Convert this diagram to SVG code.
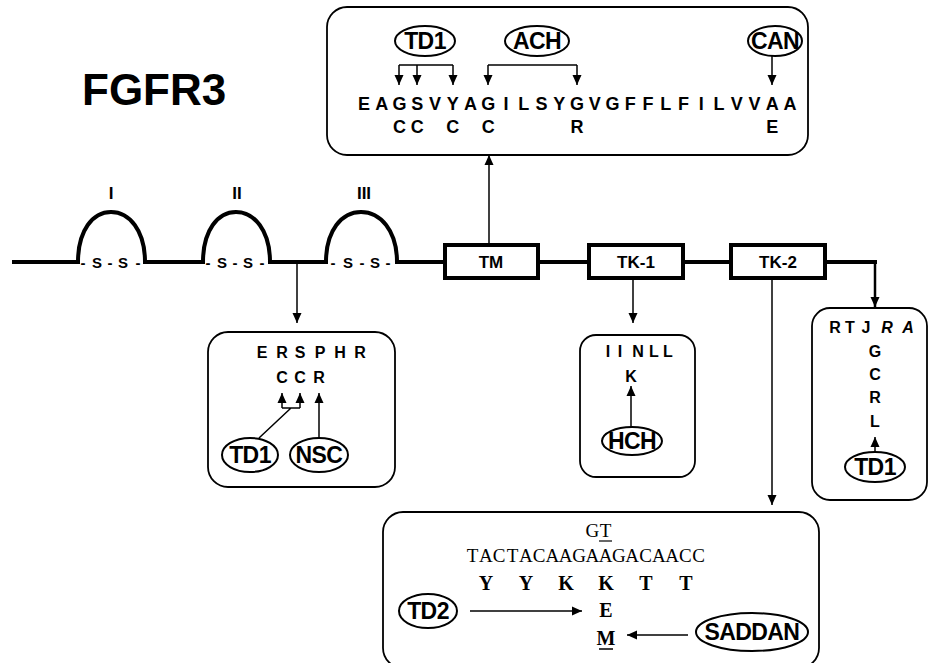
<svg xmlns="http://www.w3.org/2000/svg" width="929" height="663" viewBox="0 0 929 663">
<style>
.bg{fill:#fff}
.box{fill:none;stroke:#000;stroke-width:1.8}
.main{fill:none;stroke:#000;stroke-width:4}
.ell{fill:#fff;stroke:#000;stroke-width:2}
.c{fill:none;stroke:#000;stroke-width:1.5}
.el{font-family:"Liberation Sans",Arial,sans-serif;font-weight:bold;font-size:23px;text-anchor:middle;letter-spacing:-0.6px}
.aa{font-family:"Liberation Sans",Arial,sans-serif;font-weight:bold;font-size:18px;text-anchor:middle}
.sm{font-family:"Liberation Sans",Arial,sans-serif;font-weight:bold;font-size:16px;text-anchor:middle}
.lb{font-family:"Liberation Sans",Arial,sans-serif;font-weight:bold;font-size:17px;text-anchor:middle}
.ss{font-family:"Liberation Sans",Arial,sans-serif;font-weight:bold;font-size:15px;text-anchor:middle}
.dn{font-family:"Liberation Serif","Times New Roman",serif;font-size:19px;text-anchor:middle}
.pb{font-family:"Liberation Serif","Times New Roman",serif;font-weight:bold;font-size:20px;text-anchor:middle}
</style>
<defs>
<marker id="ah" markerUnits="userSpaceOnUse" markerWidth="10" markerHeight="10" refX="10" refY="5" orient="auto">
<path d="M0,0.5 L10,5 L0,9.5 z" fill="#000"/>
</marker>
</defs>
<rect class="bg" x="0" y="0" width="929" height="663"/>

<text x="82" y="105" font-family="Liberation Sans,Arial,sans-serif" font-weight="bold" font-size="44">FGFR3</text>

<g id="backbone">
<path class="main" d="M12,262 H78 C78,230 93,212 111,212 C129,212 145,230 145,262 H203 C203,230 218,212 236,212 C254,212 270,230 270,262 H326 C326,230 342,212 361,212 C380,212 397,230 397,262 H445 M538,262 H589 M683,262 H731 M825,262 H877"/>
<text class="lb" x="111" y="199">I</text>
<text class="lb" x="237" y="199">II</text>
<text class="lb" x="364" y="199">III</text>
<text class="ss" x="83 97 110 123 138" y="268">-S-S-</text>
<text class="ss" x="208 222 235 248 262" y="268">-S-S-</text>
<text class="ss" x="333 348 362 375 388" y="268">-S-S-</text>
</g>

<g id="TM">
<rect x="445" y="245" width="93" height="33" fill="#fff" stroke="#000" stroke-width="4"/>
<text class="lb" x="491" y="268">TM</text>
</g>
<g id="TK1">
<rect x="589" y="245" width="94" height="33" fill="#fff" stroke="#000" stroke-width="4"/>
<text class="lb" x="636" y="268">TK-1</text>
</g>
<g id="TK2">
<rect x="731" y="245" width="94" height="33" fill="#fff" stroke="#000" stroke-width="4"/>
<text class="lb" x="778" y="268">TK-2</text>
</g>

<g id="connectors">
<line class="c" x1="489" y1="245" x2="489" y2="155" marker-end="url(#ah)"/>
<line class="c" x1="297" y1="262" x2="297" y2="323" marker-end="url(#ah)"/>
<line class="c" x1="633" y1="278" x2="633" y2="323" marker-end="url(#ah)"/>
<line class="c" x1="772" y1="278" x2="772" y2="505" marker-end="url(#ah)"/>
<line x1="875" y1="260" x2="875" y2="307" stroke="#000" stroke-width="2.5" marker-end="url(#ah)"/>
</g>

<g id="tm-box">
<rect class="box" x="327" y="7" width="481" height="148" rx="20"/>
<ellipse class="ell" cx="425" cy="41" rx="30" ry="15"/>
<text class="el" x="425" y="49">TD1</text>
<ellipse class="ell" cx="537" cy="41" rx="32" ry="15"/>
<text class="el" x="537" y="49">ACH</text>
<ellipse class="ell" cx="775" cy="41" rx="27" ry="15"/>
<text class="el" x="775" y="49">CAN</text>
<path class="c" d="M399,65 H453 M417,65 V85" marker-end="url(#ah)"/>
<line class="c" x1="399" y1="65" x2="399" y2="85" marker-end="url(#ah)"/>
<line class="c" x1="453" y1="65" x2="453" y2="85" marker-end="url(#ah)"/>
<path class="c" d="M488,65 H577"/>
<line class="c" x1="488" y1="65" x2="488" y2="85" marker-end="url(#ah)"/>
<line class="c" x1="577" y1="65" x2="577" y2="85" marker-end="url(#ah)"/>
<line class="c" x1="772" y1="56" x2="772" y2="85" marker-end="url(#ah)"/>
<text class="aa" x="364 381.75 399.5 417.25 435 452.75 470.5 488.25 506 523.75 541.5 559.25 577 594.75 612.5 630.25 648 665.75 683.5 701.25 719 736.75 754.5 772.25 790" y="110">EAGSVYAGILSYGVGFFLFILVVAA</text>
<text class="aa" x="399.5 417.25 452.75 488.25 577 772.25" y="133">CCCCRE</text>
</g>

<g id="ig-box">
<rect class="box" x="208" y="332" width="187" height="155" rx="20"/>
<text class="sm" x="262 282 300 320 340 360" y="358">ERSPHR</text>
<text class="sm" x="282 300 319" y="383">CCR</text>
<path class="c" d="M282,408 H300 M291,408 L259,438"/>
<line class="c" x1="282" y1="408" x2="282" y2="393" marker-end="url(#ah)"/>
<line class="c" x1="300" y1="408" x2="300" y2="393" marker-end="url(#ah)"/>
<line class="c" x1="319" y1="438" x2="319" y2="393" marker-end="url(#ah)"/>
<ellipse class="ell" cx="250" cy="455" rx="28" ry="17"/>
<text class="el" x="250" y="463">TD1</text>
<ellipse class="ell" cx="319" cy="455" rx="29" ry="17"/>
<text class="el" x="319" y="463">NSC</text>
</g>

<g id="tk1-box">
<rect class="box" x="580" y="335" width="115" height="142" rx="16"/>
<text class="sm" x="608 620 638 654 668" y="357">IINLL</text>
<text class="sm" x="631" y="382">K</text>
<line class="c" x1="631" y1="427" x2="631" y2="386" marker-end="url(#ah)"/>
<ellipse class="ell" cx="632" cy="441" rx="30" ry="14"/>
<text class="el" x="632" y="449">HCH</text>
</g>

<g id="ter-box">
<rect class="box" x="812" y="308" width="115" height="192" rx="18"/>
<text class="sm" x="835 850 866" y="333">RTJ</text>
<text class="sm" x="887 908" y="333" font-style="italic">RA</text>
<text class="sm" x="875" y="357">G</text>
<text class="sm" x="875" y="380">C</text>
<text class="sm" x="875" y="403">R</text>
<text class="sm" x="875" y="427">L</text>
<line class="c" x1="875" y1="452" x2="875" y2="437" marker-end="url(#ah)"/>
<ellipse class="ell" cx="875" cy="467" rx="30" ry="15"/>
<text class="el" x="875" y="475">TD1</text>
</g>

<g id="tk2-box">
<rect class="box" x="383" y="512" width="436" height="156" rx="20"/>
<text class="dn" x="592.3 605.6" y="537">GT</text>
<line x1="599" y1="541" x2="612" y2="541" stroke="#000" stroke-width="1.2"/>
<text class="dn" x="472.6 485.9 499.2 512.5 525.8 539.1 552.4 565.7 579 592.3 605.6 618.9 632.2 645.5 658.8 672.1 685.4 698.7" y="562">TACTACAAGAAGACAACC</text>
<text class="pb" x="486 526 566 606 646 686" y="590">YYKKTT</text>
<text class="pb" x="606" y="617">E</text>
<text class="pb" x="606" y="645">M</text>
<line x1="599" y1="649" x2="613" y2="649" stroke="#000" stroke-width="1.5"/>
<ellipse class="ell" cx="428" cy="611" rx="29" ry="17"/>
<text class="el" x="428" y="619">TD2</text>
<line class="c" x1="470" y1="611" x2="582" y2="611" marker-end="url(#ah)"/>
<ellipse class="ell" cx="752" cy="632" rx="56" ry="19"/>
<text class="el" x="752" y="640">SADDAN</text>
<line class="c" x1="688" y1="635" x2="627" y2="635" marker-end="url(#ah)"/>
</g>
</svg>
